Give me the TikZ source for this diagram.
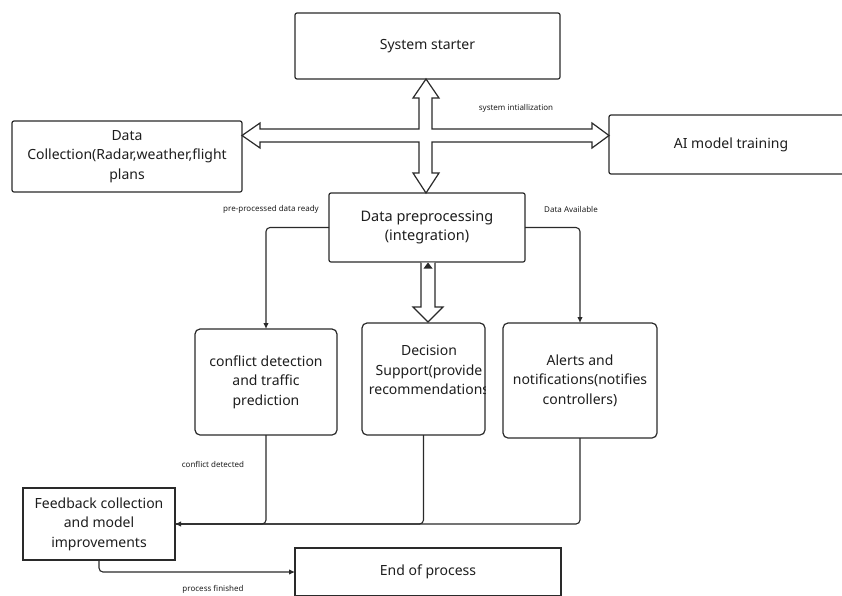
\documentclass[tikz,border=0pt]{standalone}
\usepackage{fontspec}
\setmainfont{Noto Sans}
\usetikzlibrary{arrows.meta}
\definecolor{ink}{HTML}{1E1E1E}
\definecolor{edge}{HTML}{2A2A2A}
\tikzset{
  box/.style={draw=edge, line width=1.2pt, rounded corners=2pt, fill=white, inner sep=0pt, outer sep=0pt,
    align=center, text=ink, font=\fontsize{14}{19.5}\selectfont},
  softbox/.style={box, rounded corners=5pt},
  sharpbox/.style={box, rounded corners=0pt, line width=1.3pt},
  conn/.style={draw=edge, line width=1.1pt, rounded corners=4pt, -{Latex[length=6pt,width=5.5pt]}},
  plainconn/.style={draw=edge, line width=1.1pt, rounded corners=4pt},
  hollow/.style={draw=edge, line width=1.2pt, fill=white, line join=miter},
  lbl/.style={text=ink, font=\fontsize{8}{9}\selectfont, inner sep=0pt}
}
\begin{document}
\begin{tikzpicture}[x=1pt, y=-1pt]
\useasboundingbox (0,0) rectangle (842,595);
\fill[white] (0,0) rectangle (842,595);

% boxes
\node[box, minimum width=265pt, minimum height=66pt] (starter) at (427.5,46) {System starter};
\node[box, minimum width=230pt, minimum height=71pt] (datacol) at (127,156.5) {Data\\Collection(Radar,weather,flight\\plans};
\node[box, minimum width=244pt, minimum height=59pt] (ai) at (731,144.5) {AI model training};
\node[box, minimum width=196pt, minimum height=69pt, font=\fontsize{14.5}{19.5}\selectfont] (pre) at (427,227.5) {Data preprocessing\\(integration)};
\node[softbox, minimum width=142pt, minimum height=106pt] (conflict) at (266,382) {conflict detection\\and traffic\\prediction};
\node[softbox, minimum width=123pt, minimum height=112pt] (decision) at (423.5,379) {};
\node[softbox, minimum width=154pt, minimum height=115pt] (alerts) at (580,380.5) {Alerts and\\notifications(notifies\\controllers)};
\node[sharpbox, minimum width=152pt, minimum height=72pt] (feedback) at (99,524) {Feedback collection\\and model\\improvements};
\node[sharpbox, minimum width=266pt, minimum height=48pt] (endp) at (428,572) {End of process};

\begin{scope}
  \clip (decision.south west) rectangle (decision.north east);
  \node[text=ink, font=\fontsize{14}{19.5}\selectfont, align=center, inner sep=0pt] (dectext) at (429,370)
    {Decision\\Support(provide\\recommendations};
\end{scope}

% hollow cross arrow between starter, data collection, AI training, preprocessing
\draw[hollow] (242,135.5) -- (260,123) -- (260,129) -- (419,129) -- (419,98) -- (413,98)
  -- (426,79) -- (439,98) -- (432,98) -- (432,129) -- (592,129) -- (592,123) -- (609,135.5)
  -- (592,148) -- (592,142) -- (432,142) -- (432,173) -- (439,173) -- (426,193) -- (413,173)
  -- (419,173) -- (419,142) -- (260,142) -- (260,148) -- cycle;

% hollow arrow preprocessing -> decision
\draw[hollow] (421,262.6) -- (421,307) -- (413,307) -- (428,322) -- (443,307) -- (435,307) -- (435,262.6);
\fill[edge] (423.5,268.5) -- (428,262.5) -- (432.5,268.5) -- cycle;

% connectors
\draw[conn] (pre.west) -| (conflict.north);
\draw[conn] (pre.east) -| (alerts.north);
\draw[plainconn] (conflict.south) |- (feedback.east);
\draw[plainconn] (decision.south) |- (feedback.east);
\draw[conn] (alerts.south) |- (feedback.east);
\draw[conn] (feedback.south) |- (endp.west);

% labels
\node[lbl] (l1) at (516,108) {system intiallization};
\node[lbl] (l2) at (271,209) {pre-processed data ready};
\node[lbl] (l3) at (571,209) {Data Available};
\node[lbl] (l4) at (213,464) {conflict detected};
\node[lbl] (l5) at (213,589) {process finished};
\end{tikzpicture}
\end{document}
